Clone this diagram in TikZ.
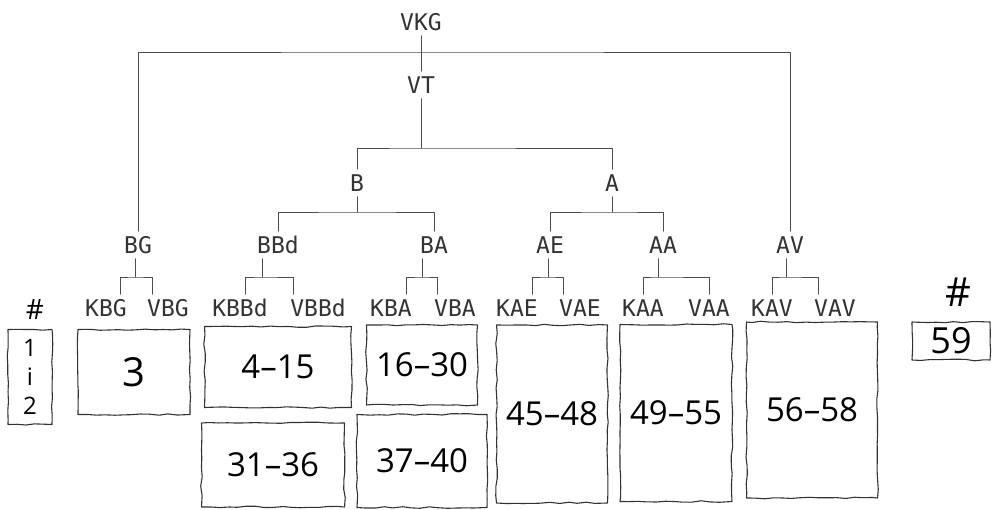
\documentclass[tikz,border=0pt]{standalone}
\usepackage{fontspec}
\setmainfont{Open Sans}
\newfontfamily\labelfont{DejaVu Sans Mono}
\usetikzlibrary{decorations.pathmorphing}

\begin{document}
\begin{tikzpicture}[x=1pt, y=-1pt, line cap=round, line join=round,
  lbl/.style={inner sep=5pt, text height=17pt, text depth=0pt, font=\labelfont\fontsize{23}{23}\selectfont, text=black!80},
  tline/.style={line width=0.8pt, black!70},
  numbox/.style={draw=black!80, line width=1.1pt, inner sep=2pt, align=center, font=\fontsize{33}{33}\selectfont,
    decorate, decoration={random steps, segment length=9pt, amplitude=0.8pt}}]

\useasboundingbox (0,0) rectangle (996,510);

% tree labels
\node[lbl] (vkg) at (421,22) {VKG};
\node[lbl] (vt) at (421,85) {VT};
\node[lbl] (b) at (357,183) {B};
\node[lbl] (a) at (612,183) {A};
\node[lbl] (bg) at (138,245) {BG};
\node[lbl] (bbd) at (278,245) {BBd};
\node[lbl] (ba) at (434,245) {BA};
\node[lbl] (ae) at (550,245) {AE};
\node[lbl] (aa) at (663,245) {AA};
\node[lbl] (av) at (790,245) {AV};
\node[lbl] (kbg) at (106,308) {KBG};
\node[lbl] (vbg) at (168,308) {VBG};
\node[lbl] (kbbd) at (240,308) {KBBd};
\node[lbl] (vbbd) at (318,308) {VBBd};
\node[lbl] (kba) at (391,308) {KBA};
\node[lbl] (vba) at (455,308) {VBA};
\node[lbl] (kae) at (517,308) {KAE};
\node[lbl] (vae) at (580,308) {VAE};
\node[lbl] (kaa) at (643,308) {KAA};
\node[lbl] (vaa) at (709,308) {VAA};
\node[lbl] (kav) at (772,308) {KAV};
\node[lbl] (vav) at (835,308) {VAV};

% junctions
\coordinate (vkgj) at (421,52);
\coordinate (vtj) at (421,148);
\coordinate (bj) at (357,212);
\coordinate (aj) at (612,212);
\coordinate (bgj) at (135,277);
\coordinate (bbdj) at (262,277);
\coordinate (baj) at (422,277);
\coordinate (aej) at (548,277);
\coordinate (aaj) at (658,277);
\coordinate (avj) at (786,277);

\draw[tline] (vkg) -- (vt);
\draw[tline] (bg) |- (vkgj) -| (av);
\draw[tline] (vt) -- (vtj);
\draw[tline] (b) |- (vtj) -| (a);
\draw[tline] (b) -- (bj);
\draw[tline] (bbd) |- (bj) -| (ba);
\draw[tline] (a) -- (aj);
\draw[tline] (ae) |- (aj) -| (aa);

\draw[tline] (bgj |- bg.south) -- (bgj);
\draw[tline] ([xshift=14pt]kbg.north) |- (bgj) -| ([xshift=-16pt]vbg.north);
\draw[tline] (bbdj |- bbd.south) -- (bbdj);
\draw[tline] ([xshift=5pt]kbbd.north) |- (bbdj) -| ([xshift=-25pt]vbbd.north);
\draw[tline] (baj |- ba.south) -- (baj);
\draw[tline] ([xshift=15pt]kba.north) |- (baj) -| ([xshift=-18pt]vba.north);
\draw[tline] (aej |- ae.south) -- (aej);
\draw[tline] ([xshift=15pt]kae.north) |- (aej) -| ([xshift=-17pt]vae.north);
\draw[tline] (aaj |- aa.south) -- (aaj);
\draw[tline] (kaa.north) |- (aaj) -| (vaa.north);
\draw[tline] (avj |- av.south) -- (avj);
\draw[tline] (kav.north) |- (avj) -| ([xshift=-17pt]vav.north);

% hand-drawn boxes
\node[font=\fontsize{28}{28}\selectfont] (hashl) at (35,310) {\#};
\node[numbox, minimum width=44pt, minimum height=95pt, font=\fontsize{24}{29}\selectfont] (box1) at (30,377) {1\\i\\2};
\node[numbox, minimum width=112pt, minimum height=85pt, font=\fontsize{40}{40}\selectfont] (box3) at (134,372) {3};
\node[numbox, minimum width=147pt, minimum height=81pt] (box4) at (278,367) {4–15};
\node[numbox, minimum width=111pt, minimum height=80pt] (box16) at (422,365) {16–30};
\node[numbox, minimum width=143pt, minimum height=84pt] (box31) at (273,465) {31–36};
\node[numbox, minimum width=130pt, minimum height=93pt] (box37) at (422,461) {37–40};
\node[numbox, minimum width=111pt, minimum height=178pt] (box45) at (552,414) {45–48};
\node[numbox, minimum width=112pt, minimum height=177pt] (box49) at (676,413) {49–55};
\node[numbox, minimum width=131pt, minimum height=176pt] (box56) at (812,410) {56–58};
\node[font=\fontsize{40}{40}\selectfont] (hashr) at (958,292) {\#};
\node[numbox, minimum width=78pt, minimum height=38pt, font=\fontsize{36}{36}\selectfont] (box59) at (951,341) {59};

\end{tikzpicture}
\end{document}
